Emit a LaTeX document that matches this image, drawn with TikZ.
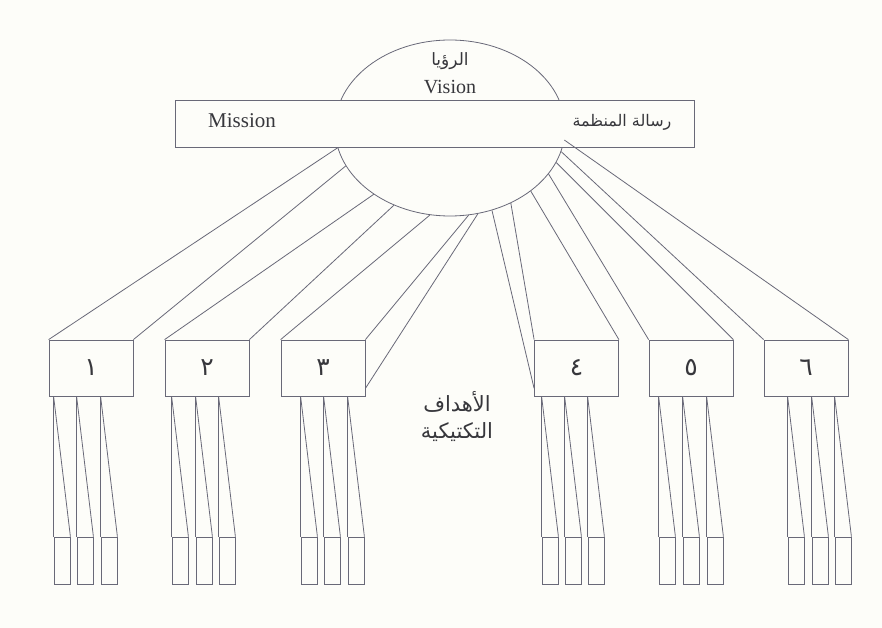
\documentclass[tikz,border=0pt]{standalone}
\usepackage{fontspec}
\setmainfont{Liberation Serif}
\newfontfamily\arabicfont[Script=Arabic]{DejaVu Sans}
\TeXXeTstate=1
\usetikzlibrary{shapes.geometric,calc}
\definecolor{ink}{RGB}{105,105,120}
\definecolor{txt}{RGB}{55,55,60}
\definecolor{paper}{RGB}{253,253,249}
\begin{document}
\begin{tikzpicture}[x=1pt,y=-1pt,
  line width=0.8pt, color=ink,
  lbl/.style={text=txt, inner sep=0pt},
  bigbox/.style={draw=ink, fill=paper, minimum width=84pt, minimum height=56pt, inner sep=0pt, text=txt, font=\arabicfont\fontsize{25}{28}\selectfont},
  subbox/.style={draw=ink, minimum width=16pt, minimum height=47pt, inner sep=0pt}]
\fill[paper] (0,0) rectangle (882,628);
\useasboundingbox (0,0) rectangle (882,628);
% vision ellipse and mission band
\node[ellipse, draw=ink, minimum width=230pt, minimum height=176pt, inner sep=0pt] (vis) at (450,128) {};
\node[draw=ink, fill=paper, minimum width=519pt, minimum height=47pt, inner sep=0pt] (mis) at (434.5,123.5) {};
\node[lbl, font=\arabicfont\fontsize{17}{20}\selectfont] (var) at (450,61) {\beginR الرؤيا\endR};
\node[lbl, font=\fontsize{20}{24}\selectfont] (ven) at (450,87) {Vision};
\node[lbl, font=\fontsize{21}{24}\selectfont] (men) at (242,121) {Mission};
\node[lbl, font=\arabicfont\fontsize{16}{18}\selectfont] (mar) at (622,122) {\beginR رسالة المنظمة\endR};
% tactical goal boxes
\node[bigbox] (b1) at (91,368) {\beginR ١\endR};
\node[bigbox] (b2) at (207,368) {\beginR ٢\endR};
\node[bigbox] (b3) at (323,368) {\beginR ٣\endR};
\node[bigbox] (b4) at (576.5,368) {\beginR ٤\endR};
\node[bigbox] (b5) at (691,368) {\beginR ٥\endR};
\node[bigbox] (b6) at (806,368) {\beginR ٦\endR};
\node[lbl, align=center, font=\arabicfont\fontsize{21}{27}\selectfont] (tac) at (457,417) {\beginR الأهداف\endR\\\beginR التكتيكية\endR};
% connectors from the vision ellipse to the boxes
\draw (vis.190.5) -- (b1.north west);
\draw (vis.200) -- (b1.north east);
\draw (vis.221.5) -- (b2.north west);
\draw (vis.234.5) -- (b2.north east);
\draw (vis.257) -- (b3.north west);
\draw (vis.282) -- (b3.north east);
\draw (vis.288) -- ([yshift=8pt]b3.south east);
\draw (vis.297) -- ([yshift=8pt]b4.south west);
\draw (vis.309) -- (b4.north west);
\draw (vis.322) -- (b4.north east);
\draw (vis.335) -- (b5.north west);
\draw (vis.342) -- (b5.north east);
\draw (vis.348) -- (b6.north west);
\draw (vis.354) -- (b6.north east);
% sub-goal boxes
\foreach \b/\l in {b1/54,b1/77,b1/101,b2/172,b2/196,b2/219,b3/301,b3/324,b3/348,
                   b4/542,b4/565,b4/588,b5/659,b5/683,b5/707,b6/788,b6/812,b6/835}{
  \node[subbox] (s\b\l) at (\l+8,560.5) {};
  \draw (s\b\l.north west |- \b.south) -- (s\b\l.north west);
  \draw (s\b\l.north west |- \b.south) -- (s\b\l.north east);
}
\end{tikzpicture}
\end{document}
